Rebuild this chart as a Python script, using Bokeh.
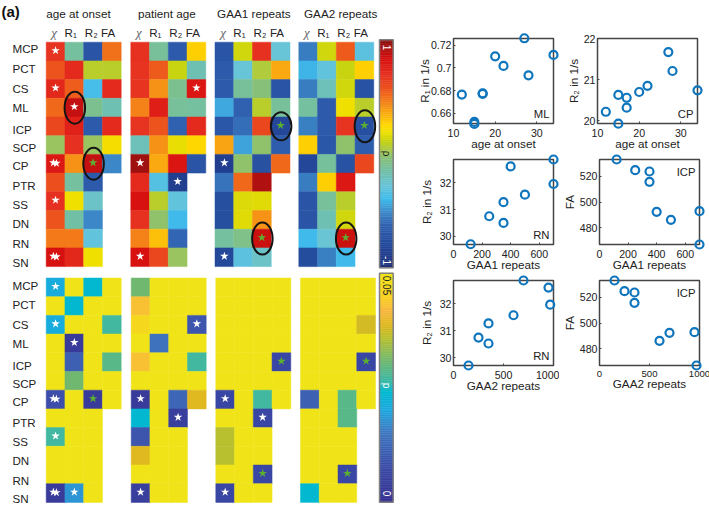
import math
import numpy as np
from bokeh.embed import file_html
from bokeh.resources import INLINE
from bokeh.plotting import figure
from bokeh.layouts import row, column
from bokeh.models import (ColumnDataSource, LinearColorMapper, Range1d, FixedTicker, Label)
from bokeh.core.properties import value
from bokeh.transform import transform

ROWS = ["MCP", "PCT", "CS", "ML", "ICP", "SCP", "CP", "PTR", "SS", "DN", "RN", "SN"]
GROUPS = ["age at onset", "patient age", "GAA1 repeats", "GAA2 repeats"]
METRICS = ["χ", "R₁", "R₂", "FA"]

# correlation coefficient per group: rows x (chi, R1, R2, FA)
rho_onset = [[.68,-.14,-.72,.50],[.58,.72,.08,.08],[.74,.55,-.38,.72],[.52,.88,-.10,-.18],
             [.62,.76,-.68,.72],[.00,.70,-.00,.22],[.80,.42,.88,-.52],[.60,-.14,-.68,None],
             [.70,.20,-.24,None],[.58,-.15,-.52,None],[.48,.48,-.30,None],[.84,.74,.20,None]]
rho_age = [[.70,-.12,-.68,.28],[.68,.56,.12,-.18],[.68,.42,-.10,.82],[.46,.78,-.12,-.14],
           [.68,.58,-.64,.72],[-.20,.42,.18,.26],[.96,.36,.82,-.72],[.72,-.34,-.88,None],
           [.84,.08,-.30,None],[.70,-.02,-.40,None],[.46,.32,-.62,None],[.84,.62,.00,None]]
rho_gaa1 = [[-.72,.14,.70,-.28],[-.68,-.28,.06,.36],[-.68,-.12,-.04,-.72],[-.44,-.64,.08,-.12],
            [-.70,-.60,.62,-.82],[.38,-.46,-.02,-.66],[-.88,-.02,-.75,.52],[-.58,.52,.92,None],
            [-.76,.16,.17,None],[-.76,.17,.42,None],[-.14,-.08,.86,None],[-.80,-.32,-.24,None]]
rho_gaa2 = [[-.55,.14,.56,-.32],[-.42,-.30,.12,.28],[-.55,-.20,.14,-.74],[-.14,-.68,.20,.08],
            [-.54,-.68,.68,-.76],[.28,-.70,-.02,-.66],[-.82,-.13,-.74,.62],[-.55,.28,.80,None],
            [-.72,-.12,.08,None],[-.72,-.18,.14,None],[-.40,-.27,.86,None],[-.78,-.54,-.40,None]]
# p-values per group
p_onset = [[.021,.05,.024,.05],[.05,.024,.05,.05],[.021,.05,.05,.027],[.05,.003,.05,.05],
           [.05,.011,.05,.029],[.05,.031,.05,.05],[.008,.05,.003,.05],[.05,.05,.05,None],
           [.027,.05,.05,None],[.05,.05,.05,None],[.05,.05,.05,None],[.003,.018,.05,None]]
p_age = [[.031,.05,.05,.05],[.043,.05,.05,.05],[.047,.05,.05,.009],[.05,.014,.05,.05],
         [.043,.05,.05,.027],[.05,.05,.05,.05],[.003,.05,.012,.039],[.024,.05,.004,None],
         [.009,.05,.05,None],[.039,.05,.05,None],[.05,.05,.05,None],[.004,.05,.05,None]]
p_gaa1 = [[.05,.05,.05,.05],[.05,.05,.05,.05],[.05,.05,.05,.05],[.05,.05,.05,.05],
          [.05,.05,.05,.006],[.05,.05,.05,.05],[.006,.05,.027,.05],[.05,.05,.006,None],
          [.036,.05,.05,None],[.036,.05,.05,None],[.05,.05,.006,None],[.006,.05,.05,None]]
p_gaa2 = [[.05,.05,.05,.05],[.05,.05,.05,.05],[.05,.05,.05,.038],[.05,.05,.05,.05],
          [.05,.05,.05,.006],[.05,.05,.05,.05],[.011,.05,.029,.05],[.05,.05,.029,None],
          [.05,.05,.05,None],[.05,.05,.05,None],[.05,.05,.006,None],[.024,.05,.05,None]]

# significance stars: (group, row, column)
stars_rho_white = [(0,0,0),(0,2,0),(0,3,1),(0,6,0),(0,8,0),(0,11,0),(1,2,3),(1,6,0),(1,7,2),(1,11,0),(2,6,0),(2,11,0)]
stars_rho_green = [(0,6,2),(2,4,3),(2,10,2),(3,4,3),(3,10,2)]
stars_p_white = [(0,0,0),(0,2,0),(0,3,1),(0,6,0),(0,8,0),(0,11,0),(0,11,1),(1,2,3),(1,6,0),(1,7,2),(1,11,0),(2,6,0),(2,7,2),(2,11,0)]
stars_p_green = [(0,6,2),(2,4,3),(2,10,2),(3,4,3),(3,10,2)]
double_stars = [(0,6,0),(0,11,0)]
# circled cells of the rho matrix: (group, row, column)
circled = [(0,3,1),(0,6,2),(2,4,3),(3,4,3),(2,10,2),(3,10,2)]

# scatter data
age_onset = [12, 15, 15, 17, 17, 20, 22, 27, 28, 34]
r1_ml = [.6765, .6524, .6506, .6776, .6772, .7103, .7018, .7262, .6935, .7115]
age_onset_cp = [12, 15, 17, 17, 15, 20, 22, 27, 28, 34]
r2_cp = [20.22, 20.63, 20.56, 20.32, 19.93, 20.70, 20.85, 21.67, 21.21, 20.74]
gaa1 = [120, 250, 350, 350, 400, 500, 700, 700]
r2_rn_gaa1 = [29.7, 30.75, 31.28, 30.5, 32.62, 31.56, 31.96, 32.88]
gaa1_fa = [120, 250, 350, 350, 400, 500, 700, 700]
fa_icp_gaa1 = [532.9, 524.6, 523.6, 515.6, 492.4, 486.2, 492.9, 467.1]
gaa2 = [150, 250, 350, 350, 600, 700, 950, 967]
r2_rn_gaa2 = [29.72, 30.75, 30.53, 31.27, 31.57, 32.85, 32.59, 31.96]
gaa2_fa = [150, 250, 350, 350, 700, 600, 950, 970]
fa_icp_gaa2 = [532.9, 524.6, 523.6, 515.6, 492.4, 486.2, 492.9, 467.1]

SANS = "Liberation Sans"


def ramp(stops, n=256):
    pos = np.array([s[0] for s in stops], float)
    rgb = np.array([[int(s[1][i:i + 2], 16) for i in (1, 3, 5)] for s in stops], float)
    t = np.linspace(pos.min(), pos.max(), n)
    out = np.column_stack([np.interp(t, pos, rgb[:, k]) for k in range(3)])
    return ["#%02x%02x%02x" % tuple(int(round(c)) for c in q) for q in out]


rho_palette = ramp([(-1, "#20307c"), (-.8, "#244a9c"), (-.64, "#3060b0"), (-.52, "#3c88c8"), (-.4, "#40bcec"),
                    (-.28, "#68c4d8"), (-.16, "#70c0a8"), (-.04, "#88c078"), (.04, "#a8c84a"), (.12, "#c8d410"),
                    (.2, "#f0e000"), (.26, "#ffd800"), (.34, "#fbb50e"), (.44, "#f58a18"), (.56, "#ee5a1c"),
                    (.7, "#e63020"), (.84, "#d81010"), (1, "#8c1010")])
p_palette = ramp([(0, "#353090"), (.0075, "#3c4ca8"), (.015, "#4078c0"), (.02, "#20a8e0"), (.024, "#00b8d0"),
                  (.027, "#40b8a0"), (.031, "#70b870"), (.036, "#b8c030"), (.039, "#e0b820"), (.042, "#f8b840"),
                  (.045, "#f8d020"), (.05, "#f0e418")])
rho_map = LinearColorMapper(palette=rho_palette, low=-1, high=1)
p_map = LinearColorMapper(palette=p_palette, low=0, high=.05)

# ---------- panel (a): drawn on a figure whose units are page pixels
left = figure(width=403, height=508, x_range=Range1d(0, 403), y_range=Range1d(508, 0),
              output_backend="svg", toolbar_location=None, min_border=0)
left.axis.visible = False
left.grid.visible = False
left.outline_line_color = None

CELL_W, CELL_H = 18.75, 18.7
TOP_Y, BOT_Y = 41.7, 277.5
TOP_X = [45.7, 130.3, 214.5, 298.3]
BOT_X = [45.7, 130.7, 215.3, 300.0]


def heat(matrices, xs, y0, mapper):
    L, R, T, B, V = [], [], [], [], []
    for g, m in enumerate(matrices):
        for i, r in enumerate(m):
            for j, v in enumerate(r):
                if v is None:
                    continue
                L.append(xs[g] + j * CELL_W)
                R.append(xs[g] + (j + 1) * CELL_W)
                T.append(y0 + i * CELL_H)
                B.append(y0 + (i + 1) * CELL_H)
                V.append(v)
    src = ColumnDataSource(dict(l=L, r=R, t=T, b=B, v=V))
    left.quad(left="l", right="r", top="t", bottom="b", source=src,
              fill_color=transform("v", mapper), line_color=transform("v", mapper), line_width=.5)


heat([rho_onset, rho_age, rho_gaa1, rho_gaa2], TOP_X, TOP_Y, rho_map)
heat([p_onset, p_age, p_gaa1, p_gaa2], BOT_X, BOT_Y, p_map)


def stars(cells, xs, y0, color):
    X, Y = [], []
    for g, i, j in cells:
        cx = xs[g] + (j + .5) * CELL_W
        cy = y0 + (i + .5) * CELL_H - 1
        if (g, i, j) in double_stars:
            X += [cx - 2.2, cx + .8]
            Y += [cy, cy + .5]
        else:
            X.append(cx)
            Y.append(cy)
    left.scatter(X, Y, marker="star", size=9, fill_color=color, line_color=None)


stars(stars_rho_white, TOP_X, TOP_Y, "#ffffff")
stars(stars_rho_green, TOP_X, TOP_Y, "#5cb030")
stars(stars_p_white, BOT_X, BOT_Y, "#ffffff")
stars(stars_p_green, BOT_X, BOT_Y, "#5cb030")

left.ellipse([TOP_X[g] + (j + .5) * CELL_W + .5 for g, i, j in circled],
             [TOP_Y + (i + .5) * CELL_H for g, i, j in circled],
             width=20.5, height=[32 if (g, i, j) != (2, 4, 3) else 28 for g, i, j in circled],
             fill_alpha=0, line_color="#141414", line_width=2)


def txt(x, y, t, size, color="#222222", font=SANS, style="normal", align="center", angle=0):
    left.text(x, y, text=t, text_font=value(font), text_font_size=value(size), text_color=color,
              text_font_style=style, text_align=align, text_baseline="middle", angle=angle)


# row labels
top_label_y = [48.3, 67.7, 87.7, 106.7, 129, 146.7, 165, 185, 204.3, 223.3, 243.3, 261.7]
bot_label_y = [285, 304.3, 324, 342.7, 365, 382.7, 400.7, 421.7, 441, 460, 480, 497.7]
txt([12] * 12, top_label_y, ROWS, "11.6px", align="left")
txt([12] * 12, bot_label_y, ROWS, "11.6px", align="left")
txt([78, 166.3, 253.3, 340.2], [12.5] * 4, GROUPS, "11.7px")
head_off = [8, 24.5, 45, 62]
for g, x0 in enumerate(TOP_X):
    txt([x0 + head_off[0]], [31.5], METRICS[:1], "13px", color="#666666", font="Liberation Serif", style="italic")
    txt([x0 + o for o in head_off[1:]], [31.7] * 3, METRICS[1:], "11.6px")
txt([1], [11], ["(a)"], "15px", color="#111111", style="bold", align="left")

# colour bars
BAR_L, BAR_R = 379.0, 392.7
rho_levels = np.linspace(-1, 1, 128)
p_levels = np.linspace(0, .05, 128)
for lev, mp, y_top, y_bot in ((rho_levels, rho_map, 39.3, 267.3), (p_levels, p_map, 272.7, 501.7)):
    step = (y_bot - y_top) / len(lev)
    ys = y_bot - step * np.arange(len(lev))
    src = ColumnDataSource(dict(t=ys - step, b=ys, v=lev))
    left.quad(left=BAR_L, right=BAR_R, top="t", bottom="b", source=src, fill_color=transform("v", mp),
              line_color=transform("v", mp), line_width=.5)
    left.quad(left=[BAR_L], right=[BAR_R], top=[y_top], bottom=[y_bot], fill_alpha=0, line_color="#808080", line_width=1.5)
down = -math.pi / 2
txt([386], [47], ["1"], "10px", color="#ffffff", angle=down)
txt([386], [153], ["ρ"], "10px", color="#222222", angle=down)
txt([386], [260], ["-1"], "10px", color="#ffffff", angle=down)
txt([386], [285], ["0.05"], "10px", color="#222222", angle=down)
txt([386], [385], ["p"], "10px", color="#ffffff", angle=down)
txt([386], [493], ["0"], "10px", color="#ffffff", angle=down)


# ---------- panel (b)
def panel(x, y, xr, yr, xt, yt, ylabels, xlab, ylab, tag, tag_top, lb, rb, tb, bb, y_so):
    p = figure(width=lb + 100 + rb, height=tb + 85 + bb, x_range=Range1d(*xr), y_range=Range1d(*yr),
               output_backend="svg", toolbar_location=None, min_border_left=lb, min_border_right=rb,
               min_border_top=tb, min_border_bottom=bb, frame_width=100, frame_height=85)
    p.grid.visible = False
    p.outline_line_color = "#444444"
    p.outline_line_width = 1.5
    p.xaxis.ticker = FixedTicker(ticks=xt)
    p.yaxis.ticker = FixedTicker(ticks=yt)
    p.yaxis.major_label_overrides = dict(zip(yt, ylabels))
    p.xaxis.axis_label = xlab
    p.yaxis.axis_label = ylab
    for ax in (p.xaxis, p.yaxis):
        ax.major_tick_in = 2
        ax.major_tick_out = 0
        ax.minor_tick_line_color = None
        ax.axis_line_color = "#444444"
        ax.major_tick_line_color = "#444444"
        ax.major_label_text_font = SANS
        ax.major_label_text_font_size = "10.6px"
        ax.major_label_text_color = "#222222"
        ax.axis_label_text_font = SANS
        ax.axis_label_text_font_size = "11.7px"
        ax.axis_label_text_font_style = "normal"
        ax.axis_label_text_color = "#222222"
    p.xaxis.major_label_standoff = 5
    p.xaxis.axis_label_standoff = -3
    p.yaxis.major_label_standoff = 2
    p.yaxis.axis_label_standoff = y_so
    p.yaxis.major_label_orientation = "horizontal"
    p.scatter(x, y, marker="circle", size=8, fill_alpha=0, line_color="#0f75bd", line_width=2.2, level="overlay")
    p.add_layout(Label(x=xr[1], y=yr[1] if tag_top else yr[0], x_offset=-4, y_offset=-12 if tag_top else 10,
                       text=tag, text_align="right", text_baseline="middle", text_font=SANS,
                       text_font_size="11.3px", text_color="#222222"))
    return p


a = panel(age_onset, r1_ml, (10, 34), (.651, .726), [10, 20, 30], [.66, .68, .70, .72], ["0.66", "0.68", "0.7", "0.72"],
          "age at onset", "R₁ in 1/s", "ML", False, 50, 8, 38, 28, -3)
b = panel(age_onset_cp, r2_cp, (10, 34), (19.935, 22), [10, 20, 30], [20, 21, 22], ["20", "21", "22"],
          "age at onset", "R₂ in 1/s", "CP", False, 36, 12, 38, 28, 1)
c = panel(gaa1, r2_rn_gaa1, (0, 700), (29.69, 32.88), [0, 200, 400, 600], [30, 31, 32], ["30", "31", "32"],
          "GAA1 repeats", "R₂ in 1/s", "RN", False, 50, 6, 7, 29, 4)
d = panel(gaa1_fa, fa_icp_gaa1, (0, 700), (467.1, 532.9), [0, 200, 400, 600], [480, 500, 520], ["480", "500", "520"],
          "GAA1 repeats", "FA", "ICP", True, 38, 12, 7, 29, 1)
e = panel(gaa2, r2_rn_gaa2, (0, 1000), (29.72, 32.85), [0, 500, 1000], [30, 31, 32], ["30", "31", "32"],
          "GAA2 repeats", "R₂ in 1/s", "RN", False, 50, 6, 7, 144, 4)
f = panel(gaa2_fa, fa_icp_gaa2, (0, 1000), (467.1, 532.9), [0, 500, 1000], [480, 500, 520], ["480", "500", "520"],
          "GAA2 repeats", "FA", "ICP", True, 38, 12, 7, 144, 1)
f.xaxis.major_label_text_font_size = "9.6px"
a.add_layout(Label(x=10, y=.726, x_offset=-48, y_offset=24, text="(b)", text_font=SANS, text_font_size="15px",
                   text_font_style="bold", text_color="#111111", text_baseline="middle"))

right = column(row(a, b, spacing=0), row(c, d, spacing=0), row(e, f, spacing=0), spacing=0)
page = row(left, right, spacing=0)

open("out.html", "w").write(file_html(page, INLINE))
